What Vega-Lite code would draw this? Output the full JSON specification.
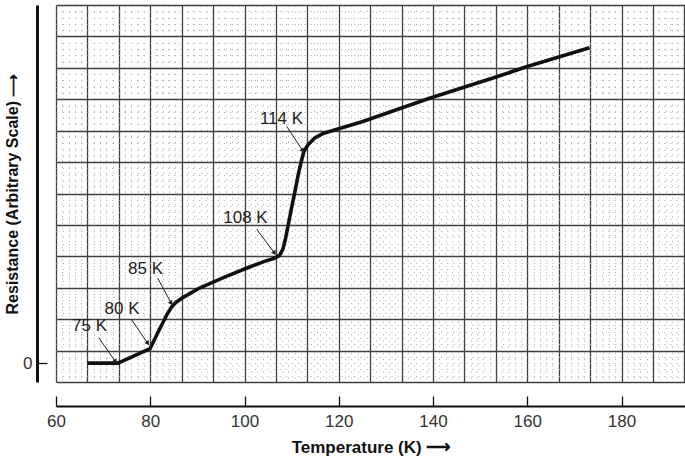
{
  "$schema": "https://vega.github.io/schema/vega-lite/v6.json",
  "autosize": {"type": "none"},
  "padding": {"left": 56, "top": 5, "right": 0, "bottom": 76},
  "width": 629,
  "height": 377,
  "background": "white",
  "config": {
    "view": {"stroke": null},
    "font": "Liberation Sans",
    "axis": {"labelFont": "Liberation Sans", "titleFont": "Liberation Sans"}
  },
  "datasets": {
    "curve": [
      {"T": 66.68, "R": 0},
      {"T": 73.16, "R": 0},
      {"T": 79.95, "R": 0.46},
      {"T": 81.8, "R": 1.03},
      {"T": 83.66, "R": 1.58},
      {"T": 84.6, "R": 1.8},
      {"T": 85.5, "R": 1.94},
      {"T": 86.63, "R": 2.06},
      {"T": 90.45, "R": 2.39},
      {"T": 95.76, "R": 2.74},
      {"T": 101.06, "R": 3.06},
      {"T": 104.24, "R": 3.24},
      {"T": 106.36, "R": 3.34},
      {"T": 107.43, "R": 3.43},
      {"T": 108.13, "R": 3.62},
      {"T": 108.64, "R": 3.92},
      {"T": 109.34, "R": 4.45},
      {"T": 110.04, "R": 4.98},
      {"T": 110.76, "R": 5.51},
      {"T": 111.46, "R": 6.04},
      {"T": 112.03, "R": 6.41},
      {"T": 112.58, "R": 6.73},
      {"T": 113.43, "R": 6.94},
      {"T": 114.85, "R": 7.16},
      {"T": 116.83, "R": 7.32},
      {"T": 125.1, "R": 7.69},
      {"T": 139.26, "R": 8.43},
      {"T": 153.2, "R": 9.1},
      {"T": 159.99, "R": 9.44},
      {"T": 173.21, "R": 10.04}
    ],
    "notes": [
      {"label": "75 K", "tx": 67.11, "ty": 1.18, "x1": 69.08, "y1": 0.81, "x2": 72.63, "y2": 0.05},
      {"label": "80 K", "tx": 74.01, "ty": 1.72, "x1": 75.96, "y1": 1.4, "x2": 79.48, "y2": 0.63},
      {"label": "85 K", "tx": 78.99, "ty": 2.99, "x1": 81.6, "y1": 2.7, "x2": 84.45, "y2": 1.91},
      {"label": "108 K", "tx": 100.21, "ty": 4.61, "x1": 102.61, "y1": 4.26, "x2": 106.37, "y2": 3.5},
      {"label": "114 K", "tx": 107.85, "ty": 7.76, "x1": 108.98, "y1": 7.53, "x2": 112.37, "y2": 6.76}
    ]
  },
  "resolve": {"axis": {"x": "independent", "y": "independent"}},
  "layer": [
    {
      "data": {"name": "curve"},
      "mark": {"type": "point", "opacity": 0},
      "encoding": {
        "x": {"field": "T", "type": "quantitative", "scale": {"domain": [60, 193.47], "nice": false, "zero": false},
          "axis": {"orient": "bottom", "values": [60,61.333,62.667,64,65.333,66.667,68,69.333,70.667,72,73.333,74.667,76,77.333,78.667,80,81.333,82.667,84,85.333,86.667,88,89.333,90.667,92,93.333,94.667,96,97.333,98.667,100,101.333,102.667,104,105.333,106.667,108,109.333,110.667,112,113.333,114.667,116,117.333,118.667,120,121.333,122.667,124,125.333,126.667,128,129.333,130.667,132,133.333,134.667,136,137.333,138.667,140,141.333,142.667,144,145.333,146.667,148,149.333,150.667,152,153.333,154.667,156,157.333,158.667,160,161.333,162.667,164,165.333,166.667,168,169.333,170.667,172,173.333,174.667,176,177.333,178.667,180,181.333,182.667,184,185.333,186.667,188,189.333,190.667,192,193.333],
            "grid": true, "gridColor": "#b4b4b4", "gridDash": [1.2, 5], "gridWidth": 1, "labels": false, "ticks": false, "domain": false, "title": null}},
        "y": {"field": "R", "type": "quantitative", "scale": {"domain": [-0.6, 11.4], "nice": false, "zero": false},
          "axis": {"orient": "left", "values": [-0.6,-0.4,-0.2,0,0.2,0.4,0.6,0.8,1,1.2,1.4,1.6,1.8,2,2.2,2.4,2.6,2.8,3,3.2,3.4,3.6,3.8,4,4.2,4.4,4.6,4.8,5,5.2,5.4,5.6,5.8,6,6.2,6.4,6.6,6.8,7,7.2,7.4,7.6,7.8,8,8.2,8.4,8.6,8.8,9,9.2,9.4,9.6,9.8,10,10.2,10.4,10.6,10.8,11,11.2,11.4],
            "grid": true, "gridColor": "#b4b4b4", "gridDash": [1.2, 5], "gridWidth": 1, "labels": false, "ticks": false, "domain": false, "title": null}}
      }
    },
    {
      "data": {"name": "curve"},
      "mark": {"type": "point", "opacity": 0},
      "encoding": {
        "x": {"field": "T", "type": "quantitative",
          "axis": {"orient": "bottom", "values": [60,66.667,73.333,80,86.667,93.333,100,106.667,113.333,120,126.667,133.333,140,146.667,153.333,160,166.667,173.333,180,186.667,193.333],
            "grid": true, "gridColor": "#404040", "gridWidth": 1.3, "labels": false, "ticks": false, "domain": false, "title": null}},
        "y": {"field": "R", "type": "quantitative",
          "axis": {"orient": "left", "values": [-0.6,0.4,1.4,2.4,3.4,4.4,5.4,6.4,7.4,8.4,9.4,10.4,11.4],
            "grid": true, "gridColor": "#404040", "gridWidth": 1.3, "labels": false, "ticks": false, "domain": false, "title": null}}
      }
    },
    {
      "data": {"name": "curve"},
      "mark": {"type": "line", "color": "#111111", "strokeWidth": 3.6, "strokeJoin": "round", "interpolate": "linear"},
      "encoding": {
        "x": {"field": "T", "type": "quantitative",
          "axis": {"orient": "bottom", "values": [60, 80, 100, 120, 140, 160, 180], "grid": false, "offset": 24,
            "tickSize": -10, "tickColor": "#111", "tickWidth": 1.3, "domainColor": "#111", "domainWidth": 2,
            "labelFontSize": 17, "labelColor": "#333", "labelPadding": 17, "labelFlush": false, "labelOverlap": false,
            "title": "Temperature (K) ⟶", "titleFontSize": 17, "titleFontWeight": "bold", "titleColor": "#111", "titlePadding": 10}},
        "y": {"field": "R", "type": "quantitative",
          "axis": {"orient": "left", "values": [0], "grid": false, "offset": 19,
            "tickSize": -10, "tickColor": "#111", "tickWidth": 1.3, "domainColor": "#111", "domainWidth": 3,
            "labelFontSize": 17, "labelColor": "#333", "labelPadding": 15, "labelFlush": false,
            "title": "Resistance (Arbitrary Scale) ⟶", "titleFontSize": 16, "titleFontWeight": "bold", "titleColor": "#111", "titlePadding": 2}}
      }
    },
    {
      "data": {"name": "notes"},
      "mark": {"type": "rule", "color": "#222", "strokeWidth": 1},
      "encoding": {
        "x": {"field": "x1", "type": "quantitative", "axis": null},
        "y": {"field": "y1", "type": "quantitative", "axis": null},
        "x2": {"field": "x2"},
        "y2": {"field": "y2"}
      }
    },
    {
      "data": {"name": "notes"},
      "mark": {"type": "point", "shape": "triangle-up", "filled": true, "color": "#222", "size": 28, "angle": 146, "opacity": 1},
      "encoding": {
        "x": {"field": "x2", "type": "quantitative", "axis": null},
        "y": {"field": "y2", "type": "quantitative", "axis": null}
      }
    },
    {
      "data": {"name": "notes"},
      "mark": {"type": "text", "fontSize": 17, "color": "#222", "font": "Liberation Sans"},
      "encoding": {
        "x": {"field": "tx", "type": "quantitative", "axis": null},
        "y": {"field": "ty", "type": "quantitative", "axis": null},
        "text": {"field": "label"}
      }
    }
  ]
}
